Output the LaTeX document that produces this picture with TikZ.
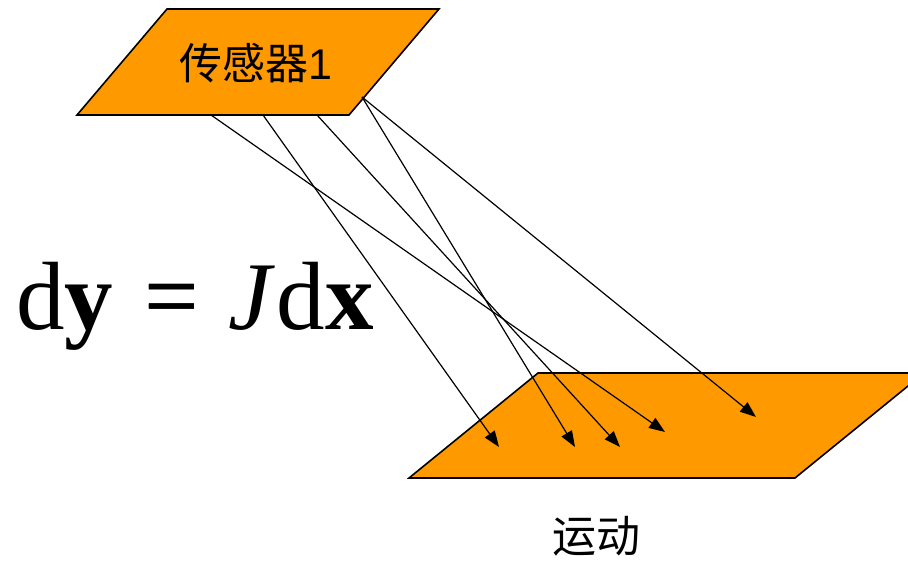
\documentclass[tikz,border=0pt]{standalone}
\usepackage{fontspec}
\setmainfont{Liberation Serif}
\newfontfamily\cjkfont{Noto Sans CJK SC}
\newfontfamily\arialfont{Liberation Sans}
\usetikzlibrary{arrows.meta}
\definecolor{plate}{HTML}{FF9900}
\tikzset{
  platebox/.style={fill=plate, draw=black, line width=1.6pt, line join=miter},
  ray/.style={draw=black, line width=1.2pt, -{Triangle[length=16pt,width=12pt]}},
  label/.style={inner sep=0pt, text=black}
}
\newcommand{\thickeq}{\rlap{=}\raisebox{1.6pt}{=}}
\begin{document}
\begin{tikzpicture}[x=1pt,y=-1pt]
\useasboundingbox (0,0) rectangle (908,561);
\clip (0,0) rectangle (908,561);
% top plate
\coordinate (t1) at (167,9);
\coordinate (t2) at (439,9);
\coordinate (t3) at (349,115);
\coordinate (t4) at (77,115);
\path[platebox] (t1) -- (t2) -- (t3) -- (t4) -- cycle;
% bottom plate
\coordinate (b1) at (538,373);
\coordinate (b2) at (924,373);
\coordinate (b3) at (795,478);
\coordinate (b4) at (409,478);
\path[platebox] (b1) -- (b2) -- (b3) -- (b4) -- cycle;
% labels
\node[label, font=\fontsize{43}{47}\selectfont] (sensor) at (256,63) {\cjkfont 传感器\arialfont 1};
\node[label, font=\fontsize{44}{48}\selectfont] (motion) at (596,536) {\cjkfont 运动};
\node[label, anchor=base, font=\fontsize{97}{102}\selectfont] (eq) at (195,330)
  {d\textbf{y}\hspace{0.32em}\thickeq\hspace{0.3em}\textit{J}\kern0.02em d\textbf{x}};
% ray start points on sensor plate
\coordinate (s1) at (211,115);
\coordinate (s2) at (263,115);
\coordinate (s3) at (317,115);
\coordinate (s4) at (362,97);
% ray end points on motion plate
\coordinate (e1) at (499,447);
\coordinate (e2) at (575,447);
\coordinate (e3) at (620,447);
\coordinate (e4) at (665,432);
\coordinate (e5) at (756,417);
\draw[ray] (s1) -- (e4);
\draw[ray] (s2) -- (e1);
\draw[ray] (s3) -- (e3);
\draw[ray] (s4) -- (e2);
\draw[ray] (s4) -- (e5);
\end{tikzpicture}
\end{document}
